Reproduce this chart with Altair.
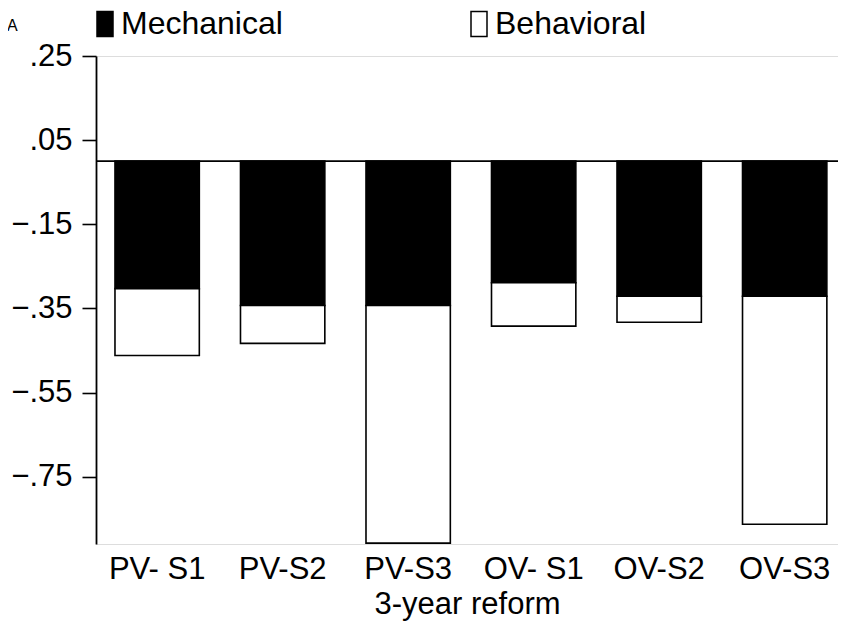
import altair as alt
import pandas as pd

categories = ["PV- S1", "PV-S2", "PV-S3", "OV- S1", "OV-S2", "OV-S3"]
mechanical = [-0.303, -0.343, -0.343, -0.289, -0.321, -0.321]
behavioral = [-0.159, -0.090, -0.565, -0.103, -0.062, -0.542]
series = ["Mechanical", "Behavioral"]
y_ticks = [0.25, 0.05, -0.15, -0.35, -0.55, -0.75]

rows = []
for c, m, b in zip(categories, mechanical, behavioral):
    rows.append({"cat": c, "type": "Mechanical", "start": 0.0, "end": m})
    rows.append({"cat": c, "type": "Behavioral", "start": m, "end": m + b})
df = pd.DataFrame(rows)
zero_df = pd.DataFrame({"y": [0.0]})

FONT = "Liberation Sans"
PATH = "M-0.64,-1H0.64V1H-0.64Z"

bars = alt.Chart(df).mark_bar(stroke="black", strokeWidth=1.6, opacity=1).encode(
    x=alt.X("cat:N", sort=categories,
            scale=alt.Scale(paddingInner=0.328, paddingOuter=0.12, align=0.63),
            axis=alt.Axis(title="3-year reform", domain=False, ticks=False,
                          labelAngle=0, labelFontSize=31, labelFont=FONT,
                          labelColor="black", labelPadding=10,
                          titleFontSize=31, titleFont=FONT, titleFontWeight="normal",
                          titleColor="black", titlePadding=5)),
    y=alt.Y("start:Q",
            scale=alt.Scale(domain=[-0.91, 0.25], nice=False, zero=False),
            axis=alt.Axis(title=None, values=y_ticks, grid=False,
                          labelExpr="replace(format(datum.value, '.2f'), '0.', '.')",
                          labelFontSize=31, labelFont=FONT, labelColor="black",
                          labelPadding=10, tickSize=14, tickColor="black",
                          tickWidth=1.6, domainColor="black", domainWidth=1.8)),
    y2="end:Q",
    color=alt.Color("type:N",
                    scale=alt.Scale(domain=series, range=["black", "white"]),
                    legend=alt.Legend(title=None, orient="none", legendX=-7, legendY=-48,
                                      direction="horizontal", labelFontSize=32,
                                      labelFont=FONT, labelColor="black",
                                      symbolType=PATH, symbolSize=625,
                                      symbolStrokeColor="black", symbolStrokeWidth=1.5,
                                      symbolOpacity=1, labelOffset=0,
                                      columnPadding=180, padding=0, labelLimit=400)),
)

zero = alt.Chart(zero_df).mark_rule(color="black", strokeWidth=1.6).encode(y="y:Q")

chart = alt.layer(bars, zero).properties(
    width=742, height=488,
    autosize=alt.AutoSizeParams(type="none"),
    padding={"left": 88, "top": 48, "right": 0, "bottom": 78},
    title=alt.TitleParams("A", anchor="start", frame="group", fontSize=16,
                          fontWeight="normal", font=FONT, color="black",
                          dx=-89, dy=30),
).configure_view(stroke=None).configure(background="white")

chart.save("out.html", embed_options={"renderer": "svg", "actions": False})
